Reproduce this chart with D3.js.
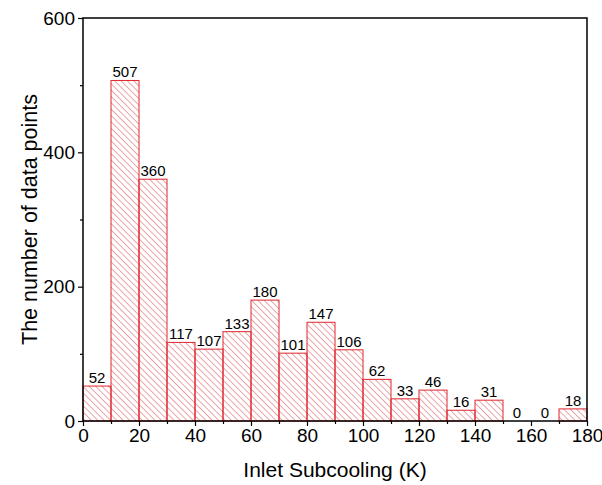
<!DOCTYPE html>
<html>
<head>
<meta charset="utf-8">
<script src="https://cdn.jsdelivr.net/npm/d3@7"></script>
<style>
  body { margin: 0; background: #fff; }
  text { font-family: "Liberation Sans", Arial, sans-serif; fill: #000; }
</style>
</head>
<body>
<div id="chart"></div>
<script>
// histogram bins (K) and counts
var binStarts = [0, 10, 20, 30, 40, 50, 60, 70, 80, 90, 100, 110, 120, 130, 140, 150, 160, 170];
var binWidth = 10;
var counts = [52, 507, 360, 117, 107, 133, 180, 101, 147, 106, 62, 33, 46, 16, 31, 0, 0, 18];
var xTicks = [0, 20, 40, 60, 80, 100, 120, 140, 160, 180];
var yTicks = [0, 200, 400, 600];

var svg = d3.select("#chart").append("svg")
  .attr("width", 602)
  .attr("height", 485);

var margin = {top: 18, right: 15, bottom: 64, left: 83},
  width = 602 - margin.left - margin.right,
  height = 485 - margin.top - margin.bottom,
  g = svg.append("g").attr("transform", "translate(" + margin.left + "," + margin.top + ")");

var x = d3.scaleLinear().domain([0, 180]).range([0, width]);
var y = d3.scaleLinear().domain([0, 600]).range([height, 0]);

// hatch pattern ("\" direction)
var defs = svg.append("defs");
defs.append("pattern")
  .attr("id", "hatch")
  .attr("patternUnits", "userSpaceOnUse")
  .attr("width", 4.5)
  .attr("height", 4.5)
  .attr("patternTransform", "rotate(-45)")
  .append("line")
  .attr("x1", 0).attr("y1", 0)
  .attr("x2", 0).attr("y2", 4.5)
  .attr("stroke", "#d63a44")
  .attr("stroke-width", 0.9);

// bars
var data = binStarts.map(function(s, i) { return {x0: s, x1: s + binWidth, n: counts[i]}; });

g.selectAll(".bar")
  .data(data.filter(function(d) { return d.n > 0; }))
  .enter().append("rect")
  .attr("class", "bar")
  .attr("x", function(d) { return x(d.x0); })
  .attr("width", function(d) { return x(d.x1) - x(d.x0); })
  .attr("y", function(d) { return y(d.n); })
  .attr("height", function(d) { return y(0) - y(d.n); })
  .attr("fill", "url(#hatch)")
  .attr("stroke", "#e0262e")
  .attr("stroke-width", 1);

// value labels
g.selectAll(".val")
  .data(data)
  .enter().append("text")
  .attr("class", "val")
  .attr("x", function(d) { return x((d.x0 + d.x1) / 2); })
  .attr("y", function(d) { return y(d.n) - 3; })
  .attr("text-anchor", "middle")
  .style("font-size", "15px")
  .text(function(d) { return d.n; });

// axes
var xAxis = d3.axisBottom(x).tickValues(xTicks).tickSize(5).tickPadding(3);
var xMinor = d3.axisBottom(x).tickValues(binStarts.filter(function(v) { return v % 20 !== 0; })).tickSize(3).tickFormat("");
var yAxis = d3.axisLeft(y).tickValues(yTicks).tickSize(5).tickPadding(3);
var yMinor = d3.axisLeft(y).tickValues([100, 300, 500]).tickSize(3).tickFormat("");

function styleAxis(sel) {
  sel.select(".domain").remove();
  sel.selectAll("line").attr("stroke", "#000").attr("stroke-width", 1.2);
  sel.selectAll("text").style("font-size", "19px").style("font-family", "'Liberation Sans', Arial, sans-serif");
}

g.append("g").attr("transform", "translate(0," + height + ")").call(xAxis).call(styleAxis);
g.append("g").attr("transform", "translate(0," + height + ")").call(xMinor).call(styleAxis);
g.append("g").call(yAxis).call(styleAxis);
g.append("g").call(yMinor).call(styleAxis);

// frame
g.append("rect")
  .attr("x", 0).attr("y", 0)
  .attr("width", width).attr("height", height)
  .attr("fill", "none")
  .attr("stroke", "#000")
  .attr("stroke-width", 1.5);

// axis titles
g.append("text")
  .attr("x", width / 2)
  .attr("y", height + 56)
  .attr("text-anchor", "middle")
  .style("font-size", "21px")
  .text("Inlet Subcooling (K)");

g.append("text")
  .attr("transform", "rotate(-90)")
  .attr("x", -height / 2)
  .attr("y", -46)
  .attr("text-anchor", "middle")
  .style("font-size", "21.5px")
  .text("The number of data points");
</script>
</body>
</html>
